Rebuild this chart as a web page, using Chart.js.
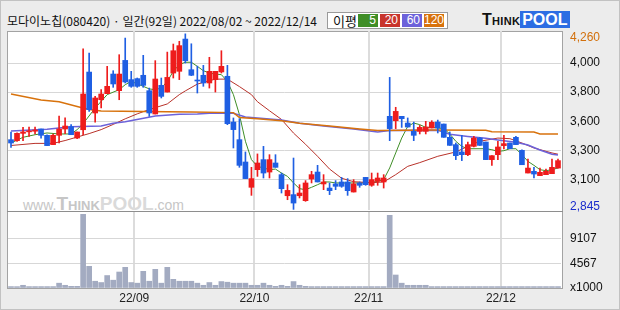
<!DOCTYPE html>
<html>
<head>
<meta charset="utf-8">
<script src="https://cdn.jsdelivr.net/npm/chart.js@4.4.1/dist/chart.umd.min.js"></script>
<style>
  body { margin: 0; width: 620px; height: 310px; background: #ececec; position: relative; overflow: hidden;
         font-family: "Noto Sans CJK KR", sans-serif; }
  .abs { position: absolute; }
  #frame { left: 0; top: 0; width: 618px; height: 308px; border: 1px solid #c2c2c2; }
  #title { left: 7px; top: 12px; font-size: 12px; color: #111; white-space: nowrap; line-height: 18px; }
  #legend { left: 327px; top: 12px; width: 119px; height: 15px; border: 1px solid #9a9a9a; background: #fff; }
  #legend .lbl { position: absolute; left: 5px; top: -1px; font-size: 13px; line-height: 17px; color: #111; }
  #legend .sw { position: absolute; top: 1px; width: 20px; height: 13px; color: #fff; text-align: right;
                font: 12px "Liberation Sans", sans-serif; line-height: 13px; box-sizing: border-box; padding-right: 2px; }
  #logo { left: 482px; top: 11px; font: bold 16px "Liberation Sans", sans-serif; line-height: 18px; white-space: nowrap; }
  #logo .think { font-variant: small-caps; color: #111; letter-spacing: 0.3px; }
  #logo .pool { background: #2c6de3; color: #fff; padding: 0 2px; }
  #panel { left: 7px; top: 31px; width: 556px; height: 258px; border: 1px solid #a3a3a3; background: #fff; box-sizing: border-box; }
  #divider { left: 7px; top: 211px; width: 556px; height: 1px; background: #8e8e8e; }
  #mark { left: 23px; top: 193px; white-space: nowrap; color: #c6c6c6; font-family: "Liberation Sans", sans-serif; }
  #mark .s { font-size: 14px; }
  #mark .b { font-size: 19px; font-weight: bold; font-variant: small-caps; }
  #mark .p { font-size: 19px; font-weight: bold; color: #dadada; }
</style>
</head>
<body>
<div id="frame" class="abs"></div>
<div id="title" class="abs">모다이노칩(080420) · 일간(92일) 2022/08/02 ~ 2022/12/14</div>
<div id="legend" class="abs">
  <span class="lbl">이평</span>
  <span class="sw" style="left:30px;background:#3f8e27">5</span>
  <span class="sw" style="left:52px;background:#c8342c">20</span>
  <span class="sw" style="left:74px;background:#6c62da">60</span>
  <span class="sw" style="left:96px;background:#d8720c">120</span>
</div>
<div id="logo" class="abs"><span class="think">Think</span><span class="pool">POOL</span></div>
<div id="panel" class="abs"></div>
<div id="mark" class="abs"><span class="s">www.</span><span class="b">Think</span><span class="p">POOL</span><span class="s">.com</span></div>
<div id="divider" class="abs"></div>
<div class="abs" style="left:0;top:26px;width:620px;height:190px"><canvas id="price" width="620" height="190"></canvas></div>
<div class="abs" style="left:0;top:212px;width:620px;height:98px"><canvas id="volume" width="620" height="98"></canvas></div>
<script>
// trading days per month (2022)
const aug = [2, 3, 4, 5, 8, 9, 10, 11, 12, 16, 17, 18, 19, 22, 23, 24, 25, 26, 29, 30, 31];
const sep = [1, 2, 5, 6, 7, 8, 13, 14, 15, 16, 19, 20, 21, 22, 23, 26, 27, 28, 29, 30];
const oct = [4, 5, 6, 7, 11, 12, 13, 14, 17, 18, 19, 20, 21, 24, 25, 26, 27, 28, 31];
const nov = [1, 2, 3, 4, 7, 8, 9, 10, 11, 14, 15, 16, 17, 18, 21, 22, 23, 24, 25, 28, 29, 30];
const dec = [1, 2, 5, 6, 7, 8, 9, 12, 13, 14];

const opens = [3407, 3399, 3458, 3470, 3475, 3493, 3442, 3367, 3442, 3493, 3512, 3420, 3487, 3952, 3622, 3729,
  3778, 3936, 3802, 4046, 3891, 3899, 3926, 3802, 3614, 3845, 3791, 3944, 3958, 4218, 3971, 3888,
  3926, 3864, 3891, 3953, 3918, 3549, 3407, 3227, 3023, 3165, 3246, 3146, 3219, 3125, 2955, 2964,
  2955, 2915, 3090, 3146, 3050, 3017, 3050, 3066, 3066, 2985, 3058, 3103, 3039, 3071, 3066, 3595,
  3560, 3595, 3541, 3474, 3474, 3474, 3501, 3549, 3533, 3426, 3367, 3308, 3286, 3353, 3420, 3388,
  3246, 3286, 3359, 3380, 3426, 3321, 3138, 3152, 3117, 3125, 3133, 3178];
const highs = [3469, 3462, 3506, 3509, 3509, 3493, 3445, 3453, 3598, 3584, 3528, 3469, 4140, 4105, 3756, 3810,
  3998, 3963, 4092, 4226, 3958, 3904, 4087, 3823, 4044, 3904, 4113, 4178, 4200, 4260, 4180, 4000,
  4006, 4071, 3958, 4124, 4006, 3582, 3576, 3308, 3184, 3292, 3353, 3286, 3286, 3138, 3044, 3259,
  3044, 3077, 3152, 3200, 3125, 3058, 3077, 3103, 3093, 3085, 3066, 3103, 3138, 3138, 3125, 3909,
  3668, 3595, 3582, 3549, 3522, 3555, 3560, 3565, 3533, 3469, 3380, 3442, 3388, 3434, 3426, 3388,
  3278, 3394, 3442, 3380, 3434, 3326, 3251, 3184, 3178, 3170, 3251, 3251];
const lows = [3345, 3393, 3399, 3434, 3453, 3420, 3359, 3367, 3380, 3455, 3447, 3415, 3447, 3635, 3549, 3662,
  3778, 3829, 3729, 3864, 3829, 3829, 3829, 3595, 3614, 3743, 3791, 3904, 3891, 4025, 3923, 3783,
  3837, 3823, 3791, 3944, 3528, 3340, 3184, 3093, 2958, 3111, 3098, 3098, 3184, 2977, 2923, 2845,
  2937, 2910, 3058, 3066, 3004, 2964, 3004, 3023, 2958, 2985, 3023, 3039, 3031, 3039, 3017, 3399,
  3496, 3506, 3509, 3399, 3453, 3453, 3501, 3461, 3426, 3361, 3246, 3238, 3278, 3348, 3361, 3246,
  3200, 3246, 3332, 3334, 3367, 3205, 3138, 3098, 3117, 3125, 3133, 3178];
const closes = [3380, 3458, 3469, 3474, 3485, 3442, 3359, 3442, 3493, 3517, 3447, 3469, 3775, 3649, 3743, 3775,
  3837, 3856, 3936, 3872, 3837, 3837, 3845, 3622, 3896, 3756, 3909, 4124, 4165, 4044, 3926, 3880,
  3864, 3958, 3958, 3998, 3536, 3488, 3200, 3093, 3093, 3219, 3138, 3246, 3184, 3012, 2998, 2896,
  2977, 3058, 3125, 3066, 3066, 2996, 3031, 3031, 2996, 3050, 3039, 3044, 3085, 3098, 3098, 3496,
  3635, 3576, 3509, 3442, 3506, 3509, 3547, 3501, 3426, 3361, 3278, 3286, 3367, 3420, 3361, 3246,
  3278, 3348, 3375, 3334, 3367, 3205, 3178, 3130, 3144, 3152, 3184, 3238];
// volume, x1000 shares
const volumes = [260, 250, 500, 260, 260, 260, 260, 260, 890, 500, 310, 310, 13600, 4000, 1250, 1010,
  2300, 1440, 2950, 3820, 1010, 890, 3080, 1250, 3450, 890, 3820, 1600, 1250, 1250, 1250, 890,
  500, 1010, 500, 1190, 1070, 890, 890, 890, 500, 500, 890, 500, 310, 500, 310, 1190,
  500, 310, 260, 260, 260, 260, 260, 260, 260, 260, 260, 260, 260, 260, 260, 13420,
  2400, 890, 500, 500, 500, 500, 260, 260, 260, 260, 260, 260, 260, 260, 260, 260,
  260, 260, 260, 260, 260, 260, 260, 260, 260, 260, 260, 260];

// moving averages: [day index, value]
const ma5 = [[0, 3380], [2, 3426], [4, 3447], [6, 3461], [8, 3453], [10, 3453], [11, 3488], [12, 3536], [14, 3662],
  [16, 3770], [18, 3810], [19, 3850], [20, 3877], [22, 3837], [23, 3816], [24, 3810], [25, 3823], [26, 3877],
  [27, 3958], [28, 4012], [29, 4031], [30, 4031], [31, 3998], [32, 3963], [33, 3944], [34, 3936], [35, 3931],
  [36, 3877], [37, 3770], [38, 3609], [39, 3394], [40, 3246], [41, 3192], [42, 3179], [43, 3165], [44, 3170],
  [45, 3138], [46, 3111], [47, 3058], [48, 3012], [49, 3004], [50, 3023], [51, 3044], [52, 3066], [53, 3066],
  [54, 3058], [59, 3058], [60, 3063], [61, 3071], [62, 3085], [63, 3179], [64, 3300], [65, 3420], [66, 3514],
  [67, 3541], [68, 3528], [69, 3506], [70, 3506], [71, 3501], [72, 3496], [73, 3453], [74, 3394], [75, 3353],
  [76, 3334], [79, 3334], [80, 3326], [81, 3313], [82, 3318], [83, 3334], [84, 3334], [85, 3286], [86, 3232],
  [87, 3200], [88, 3165], [89, 3157], [90, 3165], [91, 3179]];
const ma20 = [[0, 3360], [4, 3377], [7, 3377], [9, 3400], [11, 3428], [13, 3456], [15, 3488], [17, 3530],
  [19, 3575], [21, 3615], [23, 3650], [26, 3695], [28, 3770], [29, 3800], [31, 3855], [34, 3895], [36, 3895],
  [38, 3835], [40, 3770], [41, 3713], [43, 3640], [45, 3570], [47, 3460], [49, 3370], [51, 3273], [53, 3170],
  [55, 3096], [57, 3068], [60, 3060], [62, 3066], [64, 3125], [66, 3192], [68, 3222], [71, 3273], [74, 3308],
  [76, 3353], [78, 3394], [81, 3420], [83, 3415], [85, 3380], [87, 3340], [90, 3300], [91, 3290]];
const ma60 = [[0, 3477], [6, 3490], [10, 3512], [15, 3517], [17, 3539], [19, 3552], [24, 3598], [28, 3611],
  [31, 3614], [33, 3619], [37, 3619], [39, 3590], [45, 3566], [48, 3539], [52, 3517], [57, 3493], [61, 3468],
  [63, 3480], [71, 3482], [73, 3450], [76, 3433], [79, 3418], [81, 3404], [84, 3386], [86, 3364], [88, 3324],
  [90, 3290], [91, 3283]];
const ma120 = [[0, 3775], [5, 3727], [8, 3713], [11, 3675], [13, 3650], [15, 3638], [22, 3635], [30, 3630],
  [37, 3625], [38, 3585], [41, 3575], [45, 3560], [48, 3540], [53, 3517], [58, 3493], [61, 3480], [70, 3485],
  [79, 3482], [80, 3471], [87, 3468], [88, 3453], [91, 3453]];

// axis labels
const priceTicks = [2867, 3083, 3319, 3554, 3790, 4025, 4232];
const priceTickLabels = ["2,845", "3,100", "3,300", "3,600", "3,800", "4,000", "4,260"];
const volumeTicks = [0, 4567, 9107];
const volumeTickLabels = ["x1000", "4567", "9107"];

const UP = "#ee1c1c", DOWN = "#1f5fe3";
const GRID = "#d7d7d7", NONE = "rgba(0,0,0,0)";
const FONT = { family: "Liberation Sans", size: 12 };

const dates = [];
[[8, aug], [9, sep], [10, oct], [11, nov], [12, dec]].forEach(([m, days]) => {
  days.forEach(d => dates.push("22/" + String(m).padStart(2, "0") + "/" + String(d).padStart(2, "0")));
});
const monthStart = i => i > 0 && i < dates.length && dates[i].slice(0, 5) !== dates[i - 1].slice(0, 5);
const series = pairs => {
  const arr = dates.map(() => null);
  pairs.forEach(([i, v]) => { arr[i] = v; });
  return arr;
};
const candleColors = closes.map((c, i) => (c >= opens[i] ? UP : DOWN));

const maLine = (pairs, color, width) => ({
  type: "line", data: series(pairs), borderColor: color, borderWidth: width,
  pointRadius: 0, spanGaps: true, tension: 0, order: 3,
});

const xGrid = {
  offset: true, lineWidth: 2, drawTicks: false,
  color: ctx => (monthStart(ctx.index) ? "#dcdcdc" : NONE),
};
// fixed axis sizes, no label overflow padding
const fixWidth = s => { s.width = 59; s.paddingTop = 0; s.paddingBottom = 0; };

new Chart(document.getElementById("price"), {
  type: "bar",
  data: {
    labels: dates,
    datasets: [
      maLine(ma120, "#d8720c", 1.5),
      maLine(ma60, "#6c62da", 1.5),
      maLine(ma20, "#b8322a", 1),
      maLine(ma5, "#3f8e27", 1),
      { data: lows.map((l, i) => [l, highs[i]]), backgroundColor: candleColors,
        barThickness: 1, grouped: false, order: 1 },
      { data: opens.map((o, i) => [o, closes[i]]), backgroundColor: candleColors,
        barThickness: 5, minBarLength: 1, grouped: false, order: 0 },
    ],
  },
  options: {
    responsive: false,
    animation: false,
    layout: { padding: { left: 8, right: 0, top: 5, bottom: 6 }, autoPadding: false },
    plugins: { legend: { display: false }, tooltip: { enabled: false } },
    scales: {
      x: {
        offset: true, grid: xGrid, border: { display: false },
        ticks: { display: false }, afterFit: s => { s.height = 0; s.paddingLeft = 0; s.paddingRight = 0; },
      },
      y: {
        position: "right", min: 2840, max: 4283,
        afterFit: fixWidth,
        afterBuildTicks: s => { s.ticks = priceTicks.map(v => ({ value: v })); },
        grid: { drawTicks: false, color: ctx => (ctx.index > 0 && ctx.index < priceTicks.length - 1 ? GRID : NONE) },
        border: { display: false },
        ticks: {
          padding: 9, autoSkip: false, font: FONT,
          color: ctx => (ctx.index === 0 ? "#1a2ccc" : ctx.index === priceTicks.length - 1 ? "#d2700c" : "#111"),
          callback: (v, i) => priceTickLabels[i],
        },
      },
    },
  },
});

new Chart(document.getElementById("volume"), {
  type: "bar",
  data: {
    labels: dates,
    datasets: [{ data: volumes, backgroundColor: "#a3abc1", barThickness: 5 }],
  },
  options: {
    responsive: false,
    animation: false,
    layout: { padding: { left: 8, right: 0, top: 0, bottom: 0 }, autoPadding: false },
    plugins: { legend: { display: false }, tooltip: { enabled: false } },
    scales: {
      x: {
        offset: true, grid: xGrid, border: { display: false },
        afterFit: s => { s.height = 22; s.paddingLeft = 0; s.paddingRight = 0; },
        ticks: {
          autoSkip: false, maxRotation: 0, padding: 3, labelOffset: -3, font: FONT, color: "#222",
          callback: (v, i) => (monthStart(i) ? dates[i].slice(0, 5) : ""),
        },
      },
      y: {
        position: "right", min: 0, max: 14030,
        afterFit: fixWidth,
        afterBuildTicks: s => { s.ticks = volumeTicks.map(v => ({ value: v })); },
        grid: { drawTicks: false, color: ctx => (ctx.index > 0 ? GRID : NONE) },
        border: { display: false },
        ticks: { padding: 9, autoSkip: false, font: FONT, color: "#111", callback: (v, i) => volumeTickLabels[i] },
      },
    },
  },
});
</script>
</body>
</html>
